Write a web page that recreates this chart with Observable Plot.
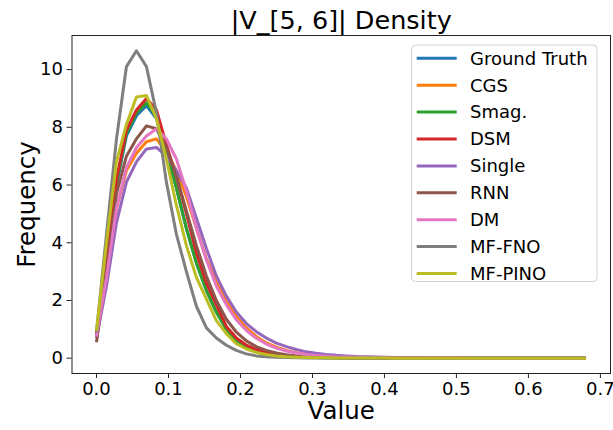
<!DOCTYPE html>
<html>
<head>
<meta charset="utf-8">
<script src="https://cdn.jsdelivr.net/npm/d3@7"></script>
<script src="https://cdn.jsdelivr.net/npm/@observablehq/plot@0.6"></script>
<style>
  html, body { margin: 0; padding: 0; background: white; }
  #chart { width: 613px; height: 430px; }
</style>
</head>
<body>
<div id="chart"></div>
<script>
const title = "|V_[5, 6]| Density";
const xLabel = "Value";
const yLabel = "Frequency";
const seriesNames = ["Ground Truth", "CGS", "Smag.", "DSM", "Single", "RNN", "DM", "MF-FNO", "MF-PINO"];
const seriesColors = ["#1f77b4", "#ff7f0e", "#2ca02c", "#d62728", "#9467bd", "#8c564b", "#e377c2", "#7f7f7f", "#bcbd22"];
const xTicks = [0, 0.1, 0.2, 0.3, 0.4, 0.5, 0.6, 0.7];
const yTicks = [0, 2, 4, 6, 8, 10];

const xs = [0, 0.0139, 0.0278, 0.0416, 0.0555, 0.0694, 0.0833, 0.0971, 0.1110, 0.1249,
  0.1388, 0.1527, 0.1665, 0.1804, 0.1943, 0.2082, 0.2220, 0.2359, 0.2498, 0.2637,
  0.2776, 0.2914, 0.3053, 0.3192, 0.3331, 0.3469, 0.3608, 0.3747, 0.3886, 0.4024,
  0.4163, 0.4302, 0.4441, 0.4580, 0.4718, 0.4857, 0.4996, 0.5135, 0.5273, 0.5412,
  0.5551, 0.5690, 0.5829, 0.5967, 0.6106, 0.6245, 0.6384, 0.6522, 0.6661, 0.6800];

const groundTruth = [0.8, 3.3, 6.0, 7.7, 8.4, 8.75, 8.3, 7.15, 5.9, 4.5, 3.3, 2.35, 1.6, 1.0, 0.62, 0.4, 0.25, 0.16, 0.1, 0.07, 0.05, 0.035, 0.025, 0.018, 0.013,
  0.01, 0.008, 0.006, 0.005, 0.004, 0.003, 0.003, 0.002, 0.002, 0.002, 0.002, 0.001, 0.001, 0.001, 0.001, 0.001, 0.001, 0.001, 0.001, 0.001, 0.001, 0.001, 0.001, 0.001, 0.001];
const cgs = [0.75, 2.8, 5.2, 6.5, 7.1, 7.5, 7.6, 7.15, 6.5, 5.6, 4.5, 3.45, 2.65, 1.98, 1.45, 1.05, 0.75, 0.53, 0.38, 0.27, 0.19, 0.13, 0.095, 0.07, 0.05,
  0.038, 0.028, 0.021, 0.016, 0.012, 0.01, 0.008, 0.006, 0.005, 0.004, 0.004, 0.003, 0.003, 0.002, 0.002, 0.002, 0.002, 0.001, 0.001, 0.001, 0.001, 0.001, 0.001, 0.001, 0.001];
const smag = [0.8, 3.4, 6.1, 7.8, 8.5, 8.85, 8.4, 7.2, 5.9, 4.5, 3.3, 2.35, 1.6, 1.0, 0.62, 0.4, 0.25, 0.16, 0.1, 0.07, 0.05, 0.035, 0.025, 0.018, 0.013,
  0.01, 0.008, 0.006, 0.005, 0.004, 0.003, 0.003, 0.002, 0.002, 0.002, 0.002, 0.001, 0.001, 0.001, 0.001, 0.001, 0.001, 0.001, 0.001, 0.001, 0.001, 0.001, 0.001, 0.001, 0.001];
const dsm = [0.8, 3.5, 6.2, 7.9, 8.6, 9.0, 8.6, 7.4, 6.3, 5.0, 3.65, 2.6, 1.85, 1.1, 0.7, 0.45, 0.3, 0.2, 0.13, 0.09, 0.06, 0.04, 0.03, 0.02, 0.015,
  0.011, 0.008, 0.006, 0.005, 0.004, 0.003, 0.003, 0.002, 0.002, 0.002, 0.002, 0.001, 0.001, 0.001, 0.001, 0.001, 0.001, 0.001, 0.001, 0.001, 0.001, 0.001, 0.001, 0.001, 0.001];
const single = [0.7, 2.5, 4.7, 6.1, 6.8, 7.25, 7.3, 7.0, 6.5, 5.9, 4.85, 3.8, 2.85, 2.15, 1.6, 1.2, 0.92, 0.7, 0.52, 0.4, 0.3, 0.22, 0.17, 0.13, 0.1,
  0.08, 0.06, 0.05, 0.04, 0.03, 0.025, 0.02, 0.016, 0.013, 0.01, 0.008, 0.007, 0.006, 0.005, 0.004, 0.004, 0.003, 0.003, 0.003, 0.002, 0.002, 0.002, 0.002, 0.002, 0.002];
const rnn = [0.55, 3.0, 5.7, 7.0, 7.6, 8.05, 7.95, 7.3, 6.3, 5.1, 3.9, 2.85, 2.0, 1.35, 0.9, 0.6, 0.4, 0.27, 0.18, 0.12, 0.08, 0.055, 0.04, 0.028, 0.02,
  0.015, 0.011, 0.008, 0.006, 0.005, 0.004, 0.003, 0.003, 0.002, 0.002, 0.002, 0.001, 0.001, 0.001, 0.001, 0.001, 0.001, 0.001, 0.001, 0.001, 0.001, 0.001, 0.001, 0.001, 0.001];
const dm = [0.75, 2.8, 5.2, 6.6, 7.3, 7.7, 7.95, 7.6, 6.9, 5.8, 4.5, 3.4, 2.5, 1.85, 1.33, 0.96, 0.69, 0.49, 0.35, 0.25, 0.18, 0.13, 0.095, 0.07, 0.05,
  0.04, 0.03, 0.022, 0.017, 0.013, 0.01, 0.008, 0.006, 0.005, 0.004, 0.003, 0.003, 0.002, 0.002, 0.002, 0.002, 0.001, 0.001, 0.001, 0.001, 0.001, 0.001, 0.001, 0.001, 0.001];
const mfFno = [0.9, 4.3, 7.6, 10.1, 10.65, 10.1, 8.5, 6.1, 4.3, 3.0, 1.8, 1.05, 0.7, 0.45, 0.27, 0.15, 0.08, 0.05, 0.03, 0.02, 0.012, 0.008, 0.005, 0.004, 0.003,
  0.002, 0.002, 0.002, 0.001, 0.001, 0.001, 0.001, 0.001, 0.001, 0.001, 0.001, 0.001, 0.001, 0.001, 0.001, 0.001, 0.001, 0.001, 0.001, 0.001, 0.001, 0.001, 0.001, 0.001, 0.001];
const mfPino = [0.95, 4.0, 6.8, 8.1, 9.05, 9.1, 8.3, 6.9, 5.3, 3.9, 2.8, 2.05, 1.3, 0.85, 0.5, 0.32, 0.2, 0.13, 0.08, 0.05, 0.035, 0.025, 0.018, 0.012, 0.009,
  0.007, 0.005, 0.004, 0.003, 0.003, 0.002, 0.002, 0.002, 0.001, 0.001, 0.001, 0.001, 0.001, 0.001, 0.001, 0.001, 0.001, 0.001, 0.001, 0.001, 0.001, 0.001, 0.001, 0.001, 0.001];

const seriesValues = [groundTruth, cgs, smag, dsm, single, rnn, dm, mfFno, mfPino];

const data = [];
seriesNames.forEach((name, k) => {
  seriesValues[k].forEach((v, i) => data.push({series: name, x: xs[i], y: v}));
});

const font = "DejaVu Sans, sans-serif";

const plot = Plot.plot({
  width: 613,
  height: 430,
  marginLeft: 71.5,
  marginRight: 3,
  marginTop: 35,
  marginBottom: 57,
  style: {fontFamily: font, background: "white", color: "black"},
  x: {domain: [-0.034, 0.714]},
  y: {domain: [-0.53, 11.18]},
  color: {domain: seriesNames, range: seriesColors},
  marks: [
    Plot.line(data, {x: "x", y: "y", z: "series", stroke: "series", strokeWidth: 3, strokeLinejoin: "round", strokeLinecap: "butt"}),
    Plot.frame({stroke: "#222", strokeWidth: 1}),
    Plot.axisX({ticks: xTicks, tickFormat: d3.format(".1f"), tickSize: 5, tickPadding: 4, fontSize: 18, label: null, stroke: "#222"}),
    Plot.axisY({ticks: yTicks, tickFormat: d3.format("d"), tickSize: 5, tickPadding: 4, fontSize: 18, label: null, stroke: "#222"}),
    Plot.text([title], {frameAnchor: "top", textAnchor: "middle", lineAnchor: "middle", dy: -15, fontSize: 25.5, fill: "black", text: d => d}),
    Plot.text([xLabel], {frameAnchor: "bottom", textAnchor: "middle", lineAnchor: "middle", dy: 38, fontSize: 24.5, fill: "black", text: d => d}),
    Plot.text([yLabel], {frameAnchor: "left", textAnchor: "middle", lineAnchor: "middle", dx: -44.5, rotate: -90, fontSize: 24.5, fill: "black", text: d => d})
  ]
});

document.getElementById("chart").appendChild(plot);

// legend
const color = plot.scale("color");
const svg = d3.select(plot);
const lg = svg.append("g").attr("font-family", font).attr("text-anchor", "start");
lg.append("rect")
  .attr("x", 411.5).attr("y", 45).attr("width", 185.5).attr("height", 236.5)
  .attr("rx", 4).attr("fill", "white").attr("fill-opacity", 0.8)
  .attr("stroke", "#d0d0d0").attr("stroke-width", 1);
seriesNames.forEach((name, i) => {
  const y = 58.3 + i * 26.9;
  lg.append("line").attr("x1", 416.7).attr("x2", 456.7).attr("y1", y).attr("y2", y)
    .attr("stroke", color.apply(name)).attr("stroke-width", 3);
  lg.append("text").attr("x", 470).attr("y", y).attr("dy", "0.35em")
    .attr("text-anchor", "start")
    .attr("font-size", 18).attr("fill", "black").text(name);
});
</script>
</body>
</html>
